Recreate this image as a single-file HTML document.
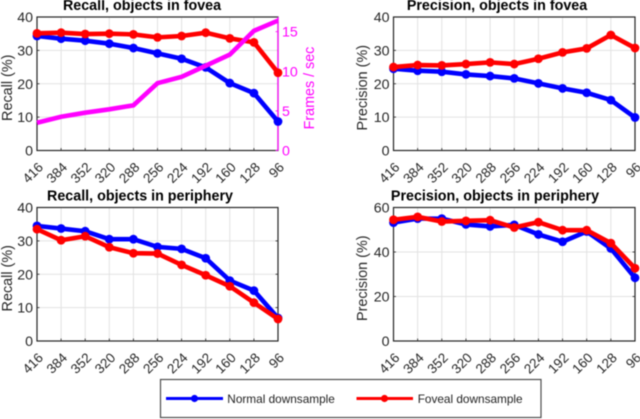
<!DOCTYPE html>
<html>
<head>
<meta charset="utf-8">
<style>
html,body{margin:0;padding:0;background:#fff;}
svg{display:block;filter:blur(0.45px);}
text{font-family:"Liberation Sans",sans-serif;}
</style>
</head>
<body>
<svg id="fig" width="640" height="419" viewBox="0 0 640 419" xmlns="http://www.w3.org/2000/svg"></svg>
<script>
const categories = ["416","384","352","320","288","256","224","192","160","128","96"];
const recallFoveaNormal = [34.3,33.5,32.9,32,30.7,29.1,27.5,24.9,20.2,17.2,8.7];
const recallFoveaFoveal = [35.1,35.3,34.9,35,34.8,33.9,34.3,35.3,33.6,32.4,23.3];
const framesPerSec = [3.5,4.26,4.77,5.2,5.7,8.5,9.3,10.7,12.1,15.1,16.4];
const precisionFoveaNormal = [24.5,23.9,23.6,22.8,22.3,21.6,20.1,18.6,17.3,15.1,9.9];
const precisionFoveaFoveal = [25,25.6,25.5,25.9,26.4,25.9,27.5,29.4,30.6,34.6,30.7];
const recallPeripheryNormal = [34.5,33.7,32.9,30.5,30.5,28.2,27.6,24.8,18.1,15.1,6.9];
const recallPeripheryFoveal = [33.5,30.2,31.4,28.1,26.3,26.2,22.8,19.7,16.4,11.5,6.6];
const precisionPeripheryNormal = [53.2,55,55,52.4,51.5,52.2,47.9,44.6,49.2,41.6,28.4];
const precisionPeripheryFoveal = [54.5,55.8,53.7,54,54.3,51,53.4,49.8,49.8,44,32.7];
const ticks40 = [0,10,20,30,40];
const ticks60 = [0,20,40,60];
const ticksFps = [0,5,10,15];
const fpsMax = 16.85;

const NS = "http://www.w3.org/2000/svg";
const fig = document.getElementById("fig");
const BLUE = "#0000ff", RED = "#ff0000", MAG = "#ff00ff", DARK = "#262626";

function mk(tag, attrs, parent, txt) {
  const e = document.createElementNS(NS, tag);
  for (const k in attrs) e.setAttribute(k, attrs[k]);
  if (txt !== undefined) e.textContent = txt;
  (parent || fig).appendChild(e);
  return e;
}

function drawSeries(g, name, vals, xs, ys, color, markers) {
  const pts = vals.map((v, i) => xs(i).toFixed(2) + "," + ys(v).toFixed(2)).join(" ");
  const line = mk("polyline", {points: pts, fill: "none", stroke: color, "stroke-width": 4.6, "stroke-linejoin": "miter"}, g);
  
  
  if (markers) {
    vals.forEach((v, i) => {
      const c = mk("circle", {cx: xs(i), cy: ys(v), r: 4.4, fill: color}, g);
      
      
    });
  }
}

function panel(o) {
  const g = mk("g", {});
  
  
  const xs = i => o.x0 + (o.x1 - o.x0) * i / (categories.length - 1);
  const ys = v => o.y0 - (o.y0 - o.y1) * v / o.ymax;

  categories.forEach((c, i) => {
    if (i > 0 && i < categories.length - 1) {
      const l = mk("line", {x1: xs(i), x2: xs(i), y1: o.y0, y2: o.y1, stroke: "#e2e2e2", "stroke-width": 1}, g);
      
      
      const t = mk("line", {x1: xs(i), x2: xs(i), y1: o.y0, y2: o.y0 - 2.5, stroke: DARK, "stroke-width": 0.8}, g);
      
      
    }
    const tx = xs(i) + 7, ty = o.y0 + 17.5;
    const lab = mk("text", {x: tx, y: ty, "text-anchor": "end", "font-size": 13.5, fill: DARK,
      transform: "rotate(-45 " + tx + " " + ty + ")"}, g, c);
    
    
  });
  o.ticks.forEach(v => {
    if (v > 0 && v < o.ymax) {
      const l = mk("line", {x1: o.x0, x2: o.x1, y1: ys(v), y2: ys(v), stroke: "#e2e2e2", "stroke-width": 1}, g);
      
      
      const t = mk("line", {x1: o.x0, x2: o.x0 + 2.5, y1: ys(v), y2: ys(v), stroke: DARK, "stroke-width": 0.8}, g);
      
      
      if (!o.fps) {
        const t2 = mk("line", {x1: o.x1, x2: o.x1 - 2.5, y1: ys(v), y2: ys(v), stroke: DARK, "stroke-width": 0.8}, g);
        
        
      }
    }
    const lab = mk("text", {x: o.x0 - 4, y: ys(v) + 5, "text-anchor": "end", "font-size": 14.2, fill: DARK}, g, String(v));
    
    
  });

  const box = mk("rect", {x: o.x0, y: o.y1, width: o.x1 - o.x0, height: o.y0 - o.y1, fill: "none", stroke: DARK, "stroke-width": 1.2}, g);
  
  

  const title = mk("text", {x: o.titleX, y: o.y1 - 7, "text-anchor": "middle", "font-size": 14.3, "font-weight": "bold", fill: "#000"}, g, o.title);
  
  

  const ylab = mk("text", {x: 0, y: 0, "text-anchor": "middle", "font-size": 14.4, fill: DARK,
    transform: "translate(" + o.ylabX + " " + ((o.y0 + o.y1) / 2 + 4) + ") rotate(-90)"}, g, o.ylabel);
  
  

  if (o.fps) {
    const yf = v => o.y0 - (o.y0 - o.y1) * v / fpsMax;
    const ax = mk("line", {x1: o.x1, x2: o.x1, y1: o.y0, y2: o.y1, stroke: MAG, "stroke-width": 1.2}, g);
    
    
    ticksFps.forEach(v => {
      const t = mk("line", {x1: o.x1, x2: o.x1 - 2.5, y1: yf(v), y2: yf(v), stroke: MAG, "stroke-width": 0.8}, g);
      
      
      const lab = mk("text", {x: o.x1 + 4, y: yf(v) + 5, "font-size": 14.2, fill: MAG}, g, String(v));
      
      
    });
    const fl = mk("text", {x: 0, y: 0, "text-anchor": "middle", "font-size": 14.3, fill: MAG,
      transform: "translate(314 88) rotate(-90)"}, g, "Frames / sec");
    
    
    drawSeries(g, o.name + '-normal', o.normal, xs, ys, BLUE, true);
    drawSeries(g, o.name + '-foveal', o.foveal, xs, ys, RED, true);
    drawSeries(g, 'frames-per-sec', framesPerSec, xs, yf, MAG, false);
  } else {
    drawSeries(g, o.name + '-normal', o.normal, xs, ys, BLUE, true);
    drawSeries(g, o.name + '-foveal', o.foveal, xs, ys, RED, true);
  }
}

panel({name:"recall-fovea-panel", title:"Recall, objects in fovea", titleX:142, x0:37, x1:278, y0:150.5, y1:17, ymax:40, ticks:ticks40, ylabel:"Recall (%)", ylabX:12, normal:recallFoveaNormal, foveal:recallFoveaFoveal, fps:true});
panel({name:"precision-fovea-panel", title:"Precision, objects in fovea", titleX:497, x0:393.5, x1:635, y0:150.5, y1:17, ymax:40, ticks:ticks40, ylabel:"Precision (%)", ylabX:367, normal:precisionFoveaNormal, foveal:precisionFoveaFoveal});
panel({name:"recall-periphery-panel", title:"Recall, objects in periphery", titleX:140, x0:37, x1:278, y0:341, y1:207.5, ymax:40, ticks:ticks40, ylabel:"Recall (%)", ylabX:12, normal:recallPeripheryNormal, foveal:recallPeripheryFoveal});
panel({name:"precision-periphery-panel", title:"Precision, objects in periphery", titleX:495, x0:393.5, x1:635, y0:341, y1:207.5, ymax:60, ticks:ticks60, ylabel:"Precision (%)", ylabX:367, normal:precisionPeripheryNormal, foveal:precisionPeripheryFoveal});

/* legend */
const leg = mk("g", {});


const legBox = mk("rect", {x: 160.5, y: 379.5, width: 380.5, height: 38, fill: "#fff", stroke: "#4d4d4d", "stroke-width": 1.2}, leg);


const l1 = mk("line", {x1: 166, x2: 223, y1: 398.5, y2: 398.5, stroke: BLUE, "stroke-width": 3}, leg);


const c1 = mk("circle", {cx: 194.5, cy: 398.5, r: 3.6, fill: BLUE}, leg);


const t1 = mk("text", {x: 227.3, y: 403, "font-size": 11.8, fill: "#222"}, leg, "Normal downsample");


const l2 = mk("line", {x1: 356.5, x2: 413, y1: 398.5, y2: 398.5, stroke: RED, "stroke-width": 3}, leg);


const c2 = mk("circle", {cx: 384.5, cy: 398.5, r: 3.6, fill: RED}, leg);


const t2 = mk("text", {x: 417.7, y: 403, "font-size": 11.8, fill: "#222"}, leg, "Foveal downsample");


</script>
</body>
</html>
